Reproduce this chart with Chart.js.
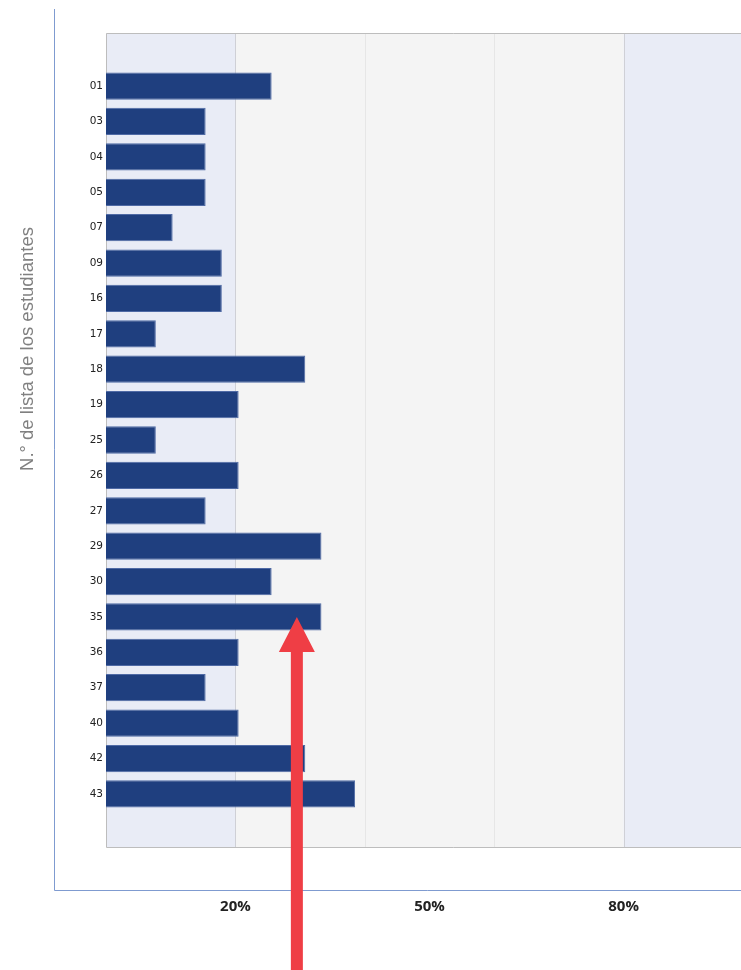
<!DOCTYPE html>
<html lang="es">
<head>
<meta charset="utf-8">
<title>N.° de lista de los estudiantes</title>
<script src="https://cdn.jsdelivr.net/npm/chart.js@4"></script>
<style>
  html, body { margin: 0; padding: 0; background: #fff; overflow: hidden; }
  #wrap { position: relative; width: 800px; height: 970px; }
</style>
</head>
<body>
<div id="wrap"><canvas id="chart"></canvas></div>
<script>
/* ── Data ── */
const students    = ['01', '03', '04', '05', '07', '09', '16', '17', '18', '19', '25',
                     '26', '27', '29', '30', '35', '36', '37', '40', '42', '43'];
const pctValues   = [25.6, 15.4, 15.4, 15.4, 10.3, 17.9, 17.9, 7.7, 30.8, 20.5, 7.7,
                     20.5, 15.4, 33.3, 25.6, 33.3, 20.5, 15.4, 20.5, 30.8, 38.5];
const xTickValues = [20, 50, 80];
const bandEdges   = [0, 20, 80, 100];
const minorGrid   = [40, 60];
const yTitle      = 'N.° de lista de los estudiantes';
const arrowTarget = '35';
const arrowValue  = 29.5;

// empty slot above and below, like the original
const labels = ['', ...students, ''];
const values = [null, ...pctValues, null];

/* ── Plugins ── */
const bandsPlugin = {
  id: 'bands',
  beforeDatasetsDraw(chart) {
    const { ctx, chartArea: a, scales: { x } } = chart;
    const fills = ['#e9ecf6', '#f4f4f4', '#e9ecf6'];
    ctx.save();
    for (let i = 0; i < bandEdges.length - 1; i++) {
      const x0 = x.getPixelForValue(bandEdges[i]);
      const x1 = x.getPixelForValue(bandEdges[i + 1]);
      ctx.fillStyle = fills[i];
      ctx.fillRect(x0, a.top, x1 - x0, a.bottom - a.top);
    }
    // faint minor lines
    ctx.strokeStyle = '#e6e6e6';
    ctx.lineWidth = 1;
    minorGrid.forEach(v => {
      const px = Math.round(x.getPixelForValue(v)) + 0.5;
      ctx.beginPath(); ctx.moveTo(px, a.top); ctx.lineTo(px, a.bottom); ctx.stroke();
    });
    // band borders
    ctx.strokeStyle = '#cfd0d6';
    [bandEdges[1], bandEdges[2]].forEach(v => {
      const px = Math.round(x.getPixelForValue(v)) + 0.5;
      ctx.beginPath(); ctx.moveTo(px, a.top); ctx.lineTo(px, a.bottom); ctx.stroke();
    });
    // plot border
    ctx.strokeStyle = '#bdbdbd';
    ctx.beginPath();
    ctx.moveTo(chart.width, a.top + 0.5);
    ctx.lineTo(a.left + 0.5, a.top + 0.5);
    ctx.lineTo(a.left + 0.5, a.bottom + 0.5);
    ctx.lineTo(chart.width, a.bottom + 0.5);
    ctx.stroke();
    // outer frame
    ctx.strokeStyle = '#7f9bd0';
    ctx.beginPath();
    ctx.moveTo(a.left - 51.5, a.top - 24);
    ctx.lineTo(a.left - 51.5, a.bottom + 43.5);
    ctx.lineTo(chart.width, a.bottom + 43.5);
    ctx.stroke();
    ctx.restore();
  },
  afterDraw(chart) {
    const { ctx, chartArea: a } = chart;
    ctx.save();
    ctx.translate(a.left - 78, a.top + 316);
    ctx.rotate(-Math.PI / 2);
    ctx.font = '18.5px "Liberation Sans", Arial, sans-serif';
    ctx.fillStyle = '#808080';
    ctx.textAlign = 'center';
    ctx.textBaseline = 'middle';
    ctx.fillText(yTitle, 0, 0);
    ctx.restore();
  }
};

const arrowPlugin = {
  id: 'arrow',
  afterDatasetsDraw(chart) {
    const { ctx, scales: { x, y } } = chart;
    const cx  = x.getPixelForValue(arrowValue);
    const tip = y.getPixelForValue(labels.indexOf(arrowTarget));
    const headLen = 35, headHalf = 18, shaftHalf = 6;
    ctx.save();
    ctx.fillStyle = '#ef3e45';
    ctx.beginPath();
    ctx.moveTo(cx, tip);
    ctx.lineTo(cx + headHalf, tip + headLen);
    ctx.lineTo(cx + shaftHalf, tip + headLen);
    ctx.lineTo(cx + shaftHalf, chart.height);
    ctx.lineTo(cx - shaftHalf, chart.height);
    ctx.lineTo(cx - shaftHalf, tip + headLen);
    ctx.lineTo(cx - headHalf, tip + headLen);
    ctx.closePath();
    ctx.fill();
    ctx.restore();
  }
};

/* ── Chart ── */
new Chart(document.getElementById('chart'), {
  type: 'bar',
  data: {
    labels,
    datasets: [{
      data:            values,
      backgroundColor: '#1f3f7f',
      borderColor:     '#4f6aa5',
      borderWidth:     1,
      borderSkipped:   'left',
      barPercentage:   0.77,
      categoryPercentage: 1,
    }],
  },
  options: {
    indexAxis: 'y',
    responsive: true,
    maintainAspectRatio: false,
    animation: false,
    layout: { padding: { top: 33, right: 47, bottom: 0, left: 0 } },
    plugins: { legend: { display: false }, tooltip: { enabled: false } },
    scales: {
      x: {
        min: 0, max: 100,
        grid: { display: false },
        border: { display: false },
        afterBuildTicks: s => { s.ticks = xTickValues.map(v => ({ value: v })); },
        afterFit: s => { s.height = 123; },
        ticks: {
          padding: 43,
          color: '#222',
          font: { family: '"Open Sans"', weight: 'bold', size: 15 },
          callback: v => v + '%',
        },
      },
      y: {
        grid: { display: false },
        border: { display: false },
        afterFit: s => { s.width = 106; },
        ticks: {
          padding: -5,
          color: '#222',
          font: { family: '"DejaVu Sans"', size: 10.5 },
        },
      },
    },
  },
  plugins: [bandsPlugin, arrowPlugin],
});
</script>
</body>
</html>
